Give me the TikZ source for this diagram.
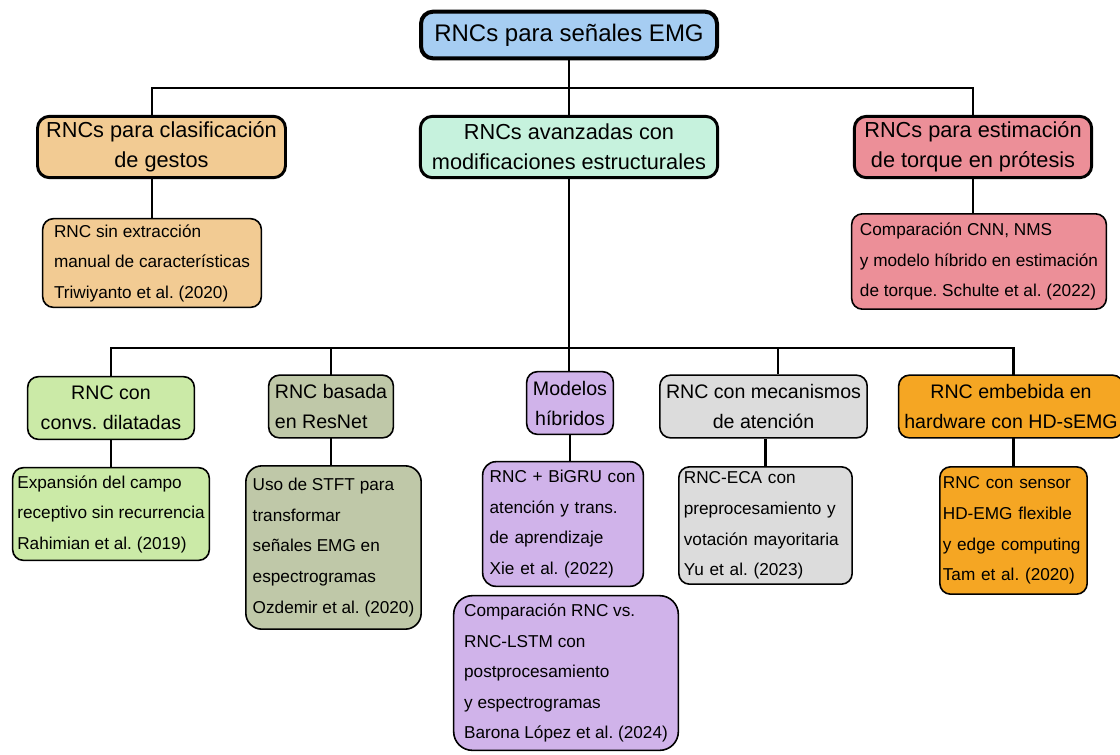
\documentclass[tikz,border=0pt]{standalone}
\usepackage{fontspec}
\setmainfont{Liberation Sans}
\frenchspacing
\usetikzlibrary{backgrounds}
\definecolor{cRoot}{RGB}{166,205,242}
\definecolor{cGest}{RGB}{242,203,147}
\definecolor{cAdv}{RGB}{198,242,221}
\definecolor{cTorq}{RGB}{236,143,152}
\definecolor{cDil}{RGB}{203,234,167}
\definecolor{cRes}{RGB}{191,200,168}
\definecolor{cHyb}{RGB}{208,179,234}
\definecolor{cAtt}{RGB}{220,220,220}
\definecolor{cEmb}{RGB}{245,166,35}
\tikzset{
  rootbox/.style={draw, line width=3pt, rounded corners=9pt, fill=cRoot, inner sep=2pt,
    font=\fontsize{18}{22}\selectfont, minimum width=222pt, minimum height=35pt},
  catbox/.style={draw, line width=2.2pt, rounded corners=9pt, inner sep=2pt, align=center,
    font=\fontsize{16.3}{22.5}\selectfont, minimum height=46pt},
  subbox/.style={draw, line width=1.2pt, rounded corners=8pt, inner sep=2pt, align=center,
    font=\fontsize{14.7}{22.5}\selectfont, minimum height=47pt},
  leafbox/.style={draw, line width=1.2pt, rounded corners=8pt, inner sep=2pt, align=left,
    font=\fontsize{12.9}{22.9}\selectfont\frenchspacing},
  conn/.style={line width=2.2pt}
}
\begin{document}
\begin{tikzpicture}[x=0.75pt, y=-0.75pt]
\useasboundingbox (0,0) rectangle (1120,754);
% level 0
\node[rootbox] (root) at (569,35) {RNCs para señales EMG};
% level 1
\node[catbox, fill=cGest, minimum width=186pt] (cg) at (161.5,147) {RNCs para clasificación\\de gestos};
\node[catbox, fill=cAdv, minimum width=223pt] (adv) at (569,147) {RNCs avanzadas con\\modificaciones estructurales};
\node[catbox, fill=cTorq, minimum width=178pt] (tq) at (973,147) {RNCs para estimación\\de torque en prótesis};
\node[leafbox, fill=cGest, minimum width=164pt, minimum height=66.5pt] (la) at (152,263) {RNC sin extracción\\manual de características\\Triwiyanto et al. (2020)};
\node[leafbox, fill=cTorq, minimum width=191pt, minimum height=71.5pt] (lc) at (979,261.5) {Comparación CNN, NMS\\y modelo híbrido en estimación\\de torque. Schulte et al. (2022)};
% level 2
\node[subbox, fill=cDil, minimum width=125pt] (dil) at (111,408) {RNC con\\convs. dilatadas};
\node[subbox, fill=cRes, minimum width=93.5pt, align=left] (res) at (331,406.5) {RNC basada\\en ResNet};
\node[subbox, fill=cHyb, minimum width=65pt] (hyb) at (570,403) {Modelos\\híbridos};
\node[subbox, fill=cAtt, minimum width=155.5pt] (att) at (763.5,406.5) {RNC con mecanismos\\de atención};
\node[subbox, fill=cEmb, minimum width=168.5pt] (emb) at (1011,406.5) {RNC embebida en\\hardware con HD-sEMG};
% leaves
\node[leafbox, fill=cDil, minimum width=147.5pt, minimum height=69.5pt] (exp) at (111,514) {Expansión del campo\\receptivo sin recurrencia\\Rahimian et al. (2019)};
\node[leafbox, fill=cRes, minimum width=131.5pt, minimum height=122.5pt, rounded corners=12pt] (stft) at (333.5,547.5) {Uso de STFT para\\transformar\\señales EMG en\\espectrogramas\\Ozdemir et al. (2020)};
\node[leafbox, fill=cHyb, inner xsep=5.25pt, text width=110pt, minimum height=93.5pt, rounded corners=10pt] (xie) at (563,524) {RNC + BiGRU con\\atención y trans.\\de aprendizaje\\Xie et al. (2022)};
\node[leafbox, fill=cHyb, minimum width=168.5pt, minimum height=116pt, rounded corners=14pt] (bar) at (566,673) {Comparación RNC vs.\\RNC-LSTM con\\postprocesamiento\\y espectrogramas\\Barona López et al. (2024)};
\node[leafbox, fill=cAtt, inner xsep=3.75pt, text width=122.5pt, minimum height=88pt] (yu) at (765.5,525.5) {RNC-ECA con\\preprocesamiento y\\votación mayoritaria\\Yu et al. (2023)};
\node[leafbox, fill=cEmb, inner xsep=2.25pt, text width=106pt, minimum height=95.5pt] (tam) at (1013.5,530.5) {RNC con sensor\\HD-EMG flexible\\y edge computing\\Tam et al. (2020)};
% connectors
\coordinate (b1) at (569,88);
\coordinate (b2) at (569,348);
\coordinate (a4) at (778,348);
\begin{scope}[on background layer]
\draw[conn] (root.south) -- (adv.north);
\draw[conn] (la.north) |- (b1);
\draw[conn] (b1) -| (tq.north);
\draw[conn] (tq.south) -- (lc.north -| tq.south);
\draw[conn] (adv.south) -- (adv.south |- hyb.north);
\draw[conn] (dil.north) |- (b2);
\draw[conn] (b2) -| (tam.north);
\draw[conn] (dil.south) -- (dil.south |- exp.north);
\draw[conn] (res.north |- b2) -- (res.south |- stft.north);
\draw[conn] (hyb.south) -- (hyb.south |- xie.north);
\draw[conn] (a4) -- (a4 |- att.north);
\draw[conn] (att.south -| yu.north) -- (yu.north);
\end{scope}
\end{tikzpicture}
\end{document}
